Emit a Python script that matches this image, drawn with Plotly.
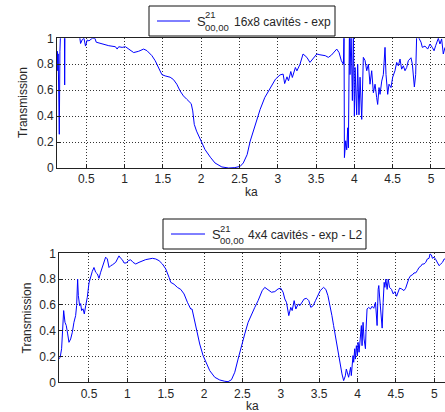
import plotly.graph_objects as go

W, H = 445, 412

# ---- data: 16x8 cavités (top) ----
ka_top = [0.118, 0.123, 0.128, 0.133, 0.14, 0.148, 0.156, 0.165, 0.2, 0.215, 0.218, 0.222, 0.3, 0.41,
          0.426, 0.448, 0.47, 0.49, 0.513, 0.535, 0.578, 0.613, 0.63, 0.708, 0.794, 0.881, 0.903, 0.924,
          0.968, 1.011, 1.054, 1.119, 1.184, 1.249, 1.292, 1.357, 1.4, 1.444, 1.487, 1.53, 1.595, 1.638,
          1.682, 1.725, 1.768, 1.812, 1.855, 1.87, 1.89, 1.91, 1.94, 2.0, 2.05, 2.12, 2.18, 2.27, 2.36,
          2.44, 2.51, 2.55, 2.6, 2.64, 2.68, 2.73, 2.77, 2.83, 2.9, 2.97, 3.03, 3.07, 3.09, 3.12, 3.14,
          3.17, 3.19, 3.23, 3.25, 3.29, 3.33, 3.38, 3.42, 3.47, 3.51, 3.55, 3.62, 3.66, 3.7, 3.77, 3.8,
          3.83, 3.857, 3.865, 3.87, 3.887, 3.9, 3.913, 3.922, 3.935, 3.943, 3.957, 3.974, 3.987, 4.0,
          4.009, 4.022, 4.03, 4.043, 4.06, 4.074, 4.096, 4.117, 4.139, 4.161, 4.183, 4.204, 4.226, 4.248,
          4.27, 4.291, 4.304, 4.322, 4.335, 4.357, 4.378, 4.4, 4.413, 4.435, 4.452, 4.478, 4.5, 4.53,
          4.552, 4.574, 4.596, 4.617, 4.639, 4.661, 4.683, 4.704, 4.739, 4.757, 4.783, 4.8, 4.813, 4.835,
          4.87, 4.887, 4.922, 4.957, 4.987, 5.017, 5.04, 5.061, 5.096, 5.117, 5.139, 5.161, 5.183]
t_top = [0.82, 0.9, 0.75, 0.88, 0.6, 0.26, 0.9, 1.05, 1.05, 1.05, 0.64, 1.05, 1.05, 1.03,
         0.96, 0.99, 1.0, 0.94, 0.987, 0.98, 1.0, 1.0, 0.97, 0.956, 0.943, 0.935, 0.917, 0.935,
         0.93, 0.935, 0.917, 0.89, 0.9, 0.917, 0.905, 0.866, 0.827, 0.775, 0.72, 0.71, 0.70, 0.682,
         0.646, 0.594, 0.556, 0.53, 0.504, 0.496, 0.44, 0.336, 0.284, 0.207, 0.142, 0.083, 0.039, 0.008, 0.0,
         0.003, 0.013, 0.039, 0.103, 0.207, 0.284, 0.375, 0.452, 0.543, 0.62, 0.685, 0.718, 0.724, 0.651, 0.703, 0.672,
         0.744, 0.698, 0.775, 0.749, 0.80, 0.879, 0.853, 0.814, 0.853, 0.879, 0.873, 0.866, 0.853, 0.87, 0.917, 0.89,
         0.827, 0.80, 1.05, 0.08, 0.21, 0.14, 0.31, 0.155, 1.05, 0.72, 1.05, 0.52, 1.05, 0.4,
         0.775, 0.52, 0.41, 0.8, 0.41, 0.70, 0.375, 0.853, 0.83, 0.75, 0.80, 0.646, 0.75, 0.58,
         0.646, 0.543, 0.49, 0.62, 0.568, 0.67, 0.72, 0.93, 0.72, 0.568, 0.646, 0.62, 0.7, 0.75,
         0.814, 0.788, 0.84, 0.762, 0.788, 0.75, 0.775, 0.827, 0.85, 0.80, 0.625, 0.72, 1.02, 1.01,
         0.97, 0.93, 0.94, 0.917, 0.956, 0.93, 0.904, 0.943, 1.0, 0.956, 0.995, 0.879, 0.93]

# ---- data: 4x4 cavités (bottom) ----
ka_bot = [0.113, 0.126, 0.143, 0.152, 0.17, 0.187, 0.204, 0.222, 0.239, 0.261, 0.283, 0.304, 0.326, 0.339,
          0.352, 0.361, 0.378, 0.391, 0.404, 0.422, 0.439, 0.457, 0.478, 0.5, 0.522, 0.543, 0.565, 0.587,
          0.609, 0.63, 0.652, 0.674, 0.696, 0.717, 0.739, 0.761, 0.783, 0.804, 0.848, 0.87, 0.891, 0.913,
          0.935, 0.957, 0.987, 1.013, 1.043, 1.074, 1.109, 1.152, 1.196, 1.239, 1.283, 1.326, 1.37, 1.413,
          1.457, 1.5, 1.543, 1.565, 1.609, 1.652, 1.696, 1.739, 1.783, 1.826, 1.843, 1.87, 1.9, 1.943,
          1.987, 2.03, 2.074, 2.139, 2.204, 2.27, 2.313, 2.357, 2.4, 2.443, 2.487, 2.53, 2.574, 2.617,
          2.661, 2.704, 2.757, 2.791, 2.835, 2.878, 2.922, 2.965, 3.0, 3.03, 3.052, 3.074, 3.104, 3.13,
          3.148, 3.174, 3.196, 3.226, 3.248, 3.278, 3.304, 3.335, 3.365, 3.391, 3.422, 3.452, 3.487,
          3.513, 3.557, 3.587, 3.614, 3.644, 3.666, 3.688, 3.71, 3.731, 3.753, 3.775, 3.797, 3.819,
          3.841, 3.854, 3.871, 3.884, 3.897, 3.91, 3.919, 3.928, 3.941, 3.95, 3.963, 3.972, 3.985,
          3.998, 4.007, 4.02, 4.037, 4.05, 4.059, 4.072, 4.085, 4.103, 4.111, 4.124, 4.146, 4.168,
          4.19, 4.212, 4.234, 4.247, 4.255, 4.269, 4.277, 4.29, 4.308, 4.321, 4.334, 4.347, 4.356,
          4.369, 4.386, 4.4, 4.417, 4.443, 4.465, 4.487, 4.509, 4.531, 4.548, 4.574, 4.605, 4.627,
          4.648, 4.67, 4.692, 4.714, 4.736, 4.758, 4.779, 4.801, 4.823, 4.845, 4.867, 4.889, 4.91,
          4.932, 4.945, 4.963, 4.976, 4.998, 5.02, 5.041, 5.063, 5.085, 5.107, 5.129, 5.15]
t_bot = [0.18, 0.2, 0.26, 0.39, 0.556, 0.465, 0.44, 0.375, 0.31, 0.336, 0.388, 0.465, 0.517, 0.594,
         0.80, 0.672, 0.594, 0.61, 0.556, 0.57, 0.53, 0.594, 0.659, 0.77, 0.82, 0.86, 0.89, 0.853,
         0.84, 0.806, 0.853, 0.89, 0.93, 0.97, 0.956, 0.89, 0.904, 0.91, 0.93, 0.956, 0.98, 0.961,
         0.95, 0.925, 0.925, 0.943, 0.95, 0.93, 0.917, 0.93, 0.943, 0.951, 0.956, 0.961, 0.956, 0.943,
         0.917, 0.879, 0.814, 0.775, 0.76, 0.736, 0.72, 0.685, 0.62, 0.568, 0.568, 0.49, 0.40, 0.297,
         0.207, 0.142, 0.09, 0.039, 0.018, 0.008, 0.005, 0.02, 0.078, 0.18, 0.284, 0.375, 0.465, 0.53,
         0.581, 0.633, 0.71, 0.736, 0.718, 0.698, 0.703, 0.724, 0.729, 0.698, 0.646, 0.62, 0.517, 0.581,
         0.556, 0.633, 0.568, 0.607, 0.594, 0.62, 0.646, 0.651, 0.633, 0.581, 0.594, 0.633, 0.672,
         0.71, 0.736, 0.72, 0.672, 0.594, 0.517, 0.44, 0.36, 0.284, 0.207, 0.142, 0.065, 0.013,
         0.05, 0.103, 0.065, 0.039, 0.078, 0.116, 0.052, 0.142, 0.207, 0.155, 0.26, 0.18, 0.284,
         0.207, 0.31, 0.233, 0.336, 0.44, 0.284, 0.465, 0.336, 0.26, 0.413, 0.568, 0.581, 0.568,
         0.589, 0.574, 0.62, 0.517, 0.44, 0.72, 0.75, 0.646, 0.517, 0.42, 0.62, 0.775, 0.736,
         0.8, 0.72, 0.8, 0.736, 0.72, 0.685, 0.703, 0.667, 0.711, 0.73, 0.724, 0.711, 0.729,
         0.77, 0.806, 0.827, 0.832, 0.848, 0.848, 0.866, 0.89, 0.899, 0.917, 0.917, 0.93, 0.956,
         0.961, 0.995, 0.987, 0.961, 0.97, 0.951, 0.93, 0.904, 0.917, 0.93, 0.956, 0.956]

x_ticks = [0.5, 1, 1.5, 2, 2.5, 3, 3.5, 4, 4.5, 5]
x_ticktext = ["0.5", "1", "1.5", "2", "2.5", "3", "3.5", "4", "4.5", "5"]
y_ticks = [0, 0.2, 0.4, 0.6, 0.8, 1]
y_ticktext = ["0", "0.2", "0.4", "0.6", "0.8", "1"]

legend_top = ("S", "21", "00,00", "16x8 cavités - exp")
legend_bot = ("S", "21", "00,00", "4x4 cavités - exp - L2")


def fx(p):
    return p / W


def fy(p):
    return 1 - p / H


FONT = "Liberation Sans, Arial, sans-serif"
TXT = "#262626"

fig = go.Figure()
fig.add_trace(go.Scatter(x=ka_top, y=t_top, mode="lines", line=dict(color="#0000ff", width=1),
                         xaxis="x", yaxis="y", showlegend=False))
fig.add_trace(go.Scatter(x=ka_bot, y=t_bot, mode="lines", line=dict(color="#0000ff", width=1),
                         xaxis="x2", yaxis="y2", showlegend=False))

common_x = dict(tickmode="array", tickvals=x_ticks, ticktext=x_ticktext, ticks="inside", ticklen=4,
                tickcolor="#222", showline=True, linecolor="#222", linewidth=1, mirror=True,
                showgrid=True, gridcolor="#333", griddash="1px,2px", gridwidth=1, zeroline=False,
                tickfont=dict(family=FONT, size=12, color=TXT), automargin=False)
common_y = dict(tickmode="array", tickvals=y_ticks, ticktext=y_ticktext, ticks="inside", ticklen=4,
                tickcolor="#222", showline=True, linecolor="#222", linewidth=1, mirror=False,
                showgrid=True, gridcolor="#333", griddash="1px,2px", gridwidth=1, zeroline=False,
                tickfont=dict(family=FONT, size=12, color=TXT), automargin=False, range=[0, 1])

fig.update_layout(
    width=W, height=H, margin=dict(l=0, r=0, t=0, b=0), paper_bgcolor="white", plot_bgcolor="white",
    showlegend=False,
    xaxis=dict(common_x, domain=[fx(57), 1.0], range=[0.118, 5.183], anchor="y"),
    yaxis=dict(common_y, domain=[fy(168), fy(38.3)], anchor="x"),
    xaxis2=dict(common_x, domain=[fx(59.3), 1.0], range=[0.113, 5.14], anchor="y2"),
    yaxis2=dict(common_y, domain=[fy(382.3), fy(253.3)], anchor="x2"),
)

ann = []
shapes = []


def add_legend(box, line_x, line_y, s_x, sup_y, sub_y, txt_x, parts):
    x0, y0, x1, y1 = box
    shapes.append(dict(type="rect", xref="paper", yref="paper", x0=fx(x0), x1=fx(x1), y0=fy(y1), y1=fy(y0),
                       line=dict(color="#111", width=1), fillcolor="white", layer="above"))
    shapes.append(dict(type="line", xref="paper", yref="paper", x0=fx(line_x[0]), x1=fx(line_x[1]),
                       y0=fy(line_y), y1=fy(line_y), line=dict(color="#0000ff", width=1), layer="above"))
    s, sup, sub, rest = parts
    ann.append(dict(text=s, x=fx(s_x), y=fy(line_y + 0.5), xref="paper", yref="paper", xanchor="left",
                    yanchor="middle", showarrow=False, font=dict(family=FONT, size=13, color=TXT)))
    ann.append(dict(text=sup, x=fx(s_x + 8), y=fy(sup_y), xref="paper", yref="paper", xanchor="left",
                    yanchor="middle", showarrow=False, font=dict(family=FONT, size=9.5, color=TXT)))
    ann.append(dict(text=sub, x=fx(s_x + 8), y=fy(sub_y), xref="paper", yref="paper", xanchor="left",
                    yanchor="middle", showarrow=False, font=dict(family=FONT, size=9.5, color=TXT)))
    ann.append(dict(text=rest, x=fx(txt_x), y=fy(line_y + 0.5), xref="paper", yref="paper", xanchor="left",
                    yanchor="middle", showarrow=False, font=dict(family=FONT, size=12, color=TXT)))


add_legend((149, 6, 335, 36), (157, 190), 21, 195, 15, 27.5, 232, legend_top)
add_legend((163, 219, 366, 249), (171, 205), 234, 210, 228, 240.5, 246, legend_bot)

# axis titles
for (x, y) in [(251, 192.5), (252, 405.5)]:
    ann.append(dict(text="ka", x=fx(x), y=fy(y), xref="paper", yref="paper", xanchor="center",
                    yanchor="middle", showarrow=False, font=dict(family=FONT, size=12, color=TXT)))
for (x, y) in [(23, 103), (26.5, 318)]:
    ann.append(dict(text="Transmission", x=fx(x), y=fy(y), xref="paper", yref="paper", xanchor="center",
                    yanchor="middle", textangle=-90, showarrow=False,
                    font=dict(family=FONT, size=12, color=TXT)))

fig.update_layout(annotations=ann, shapes=shapes)
fig.write_html("out.html")
